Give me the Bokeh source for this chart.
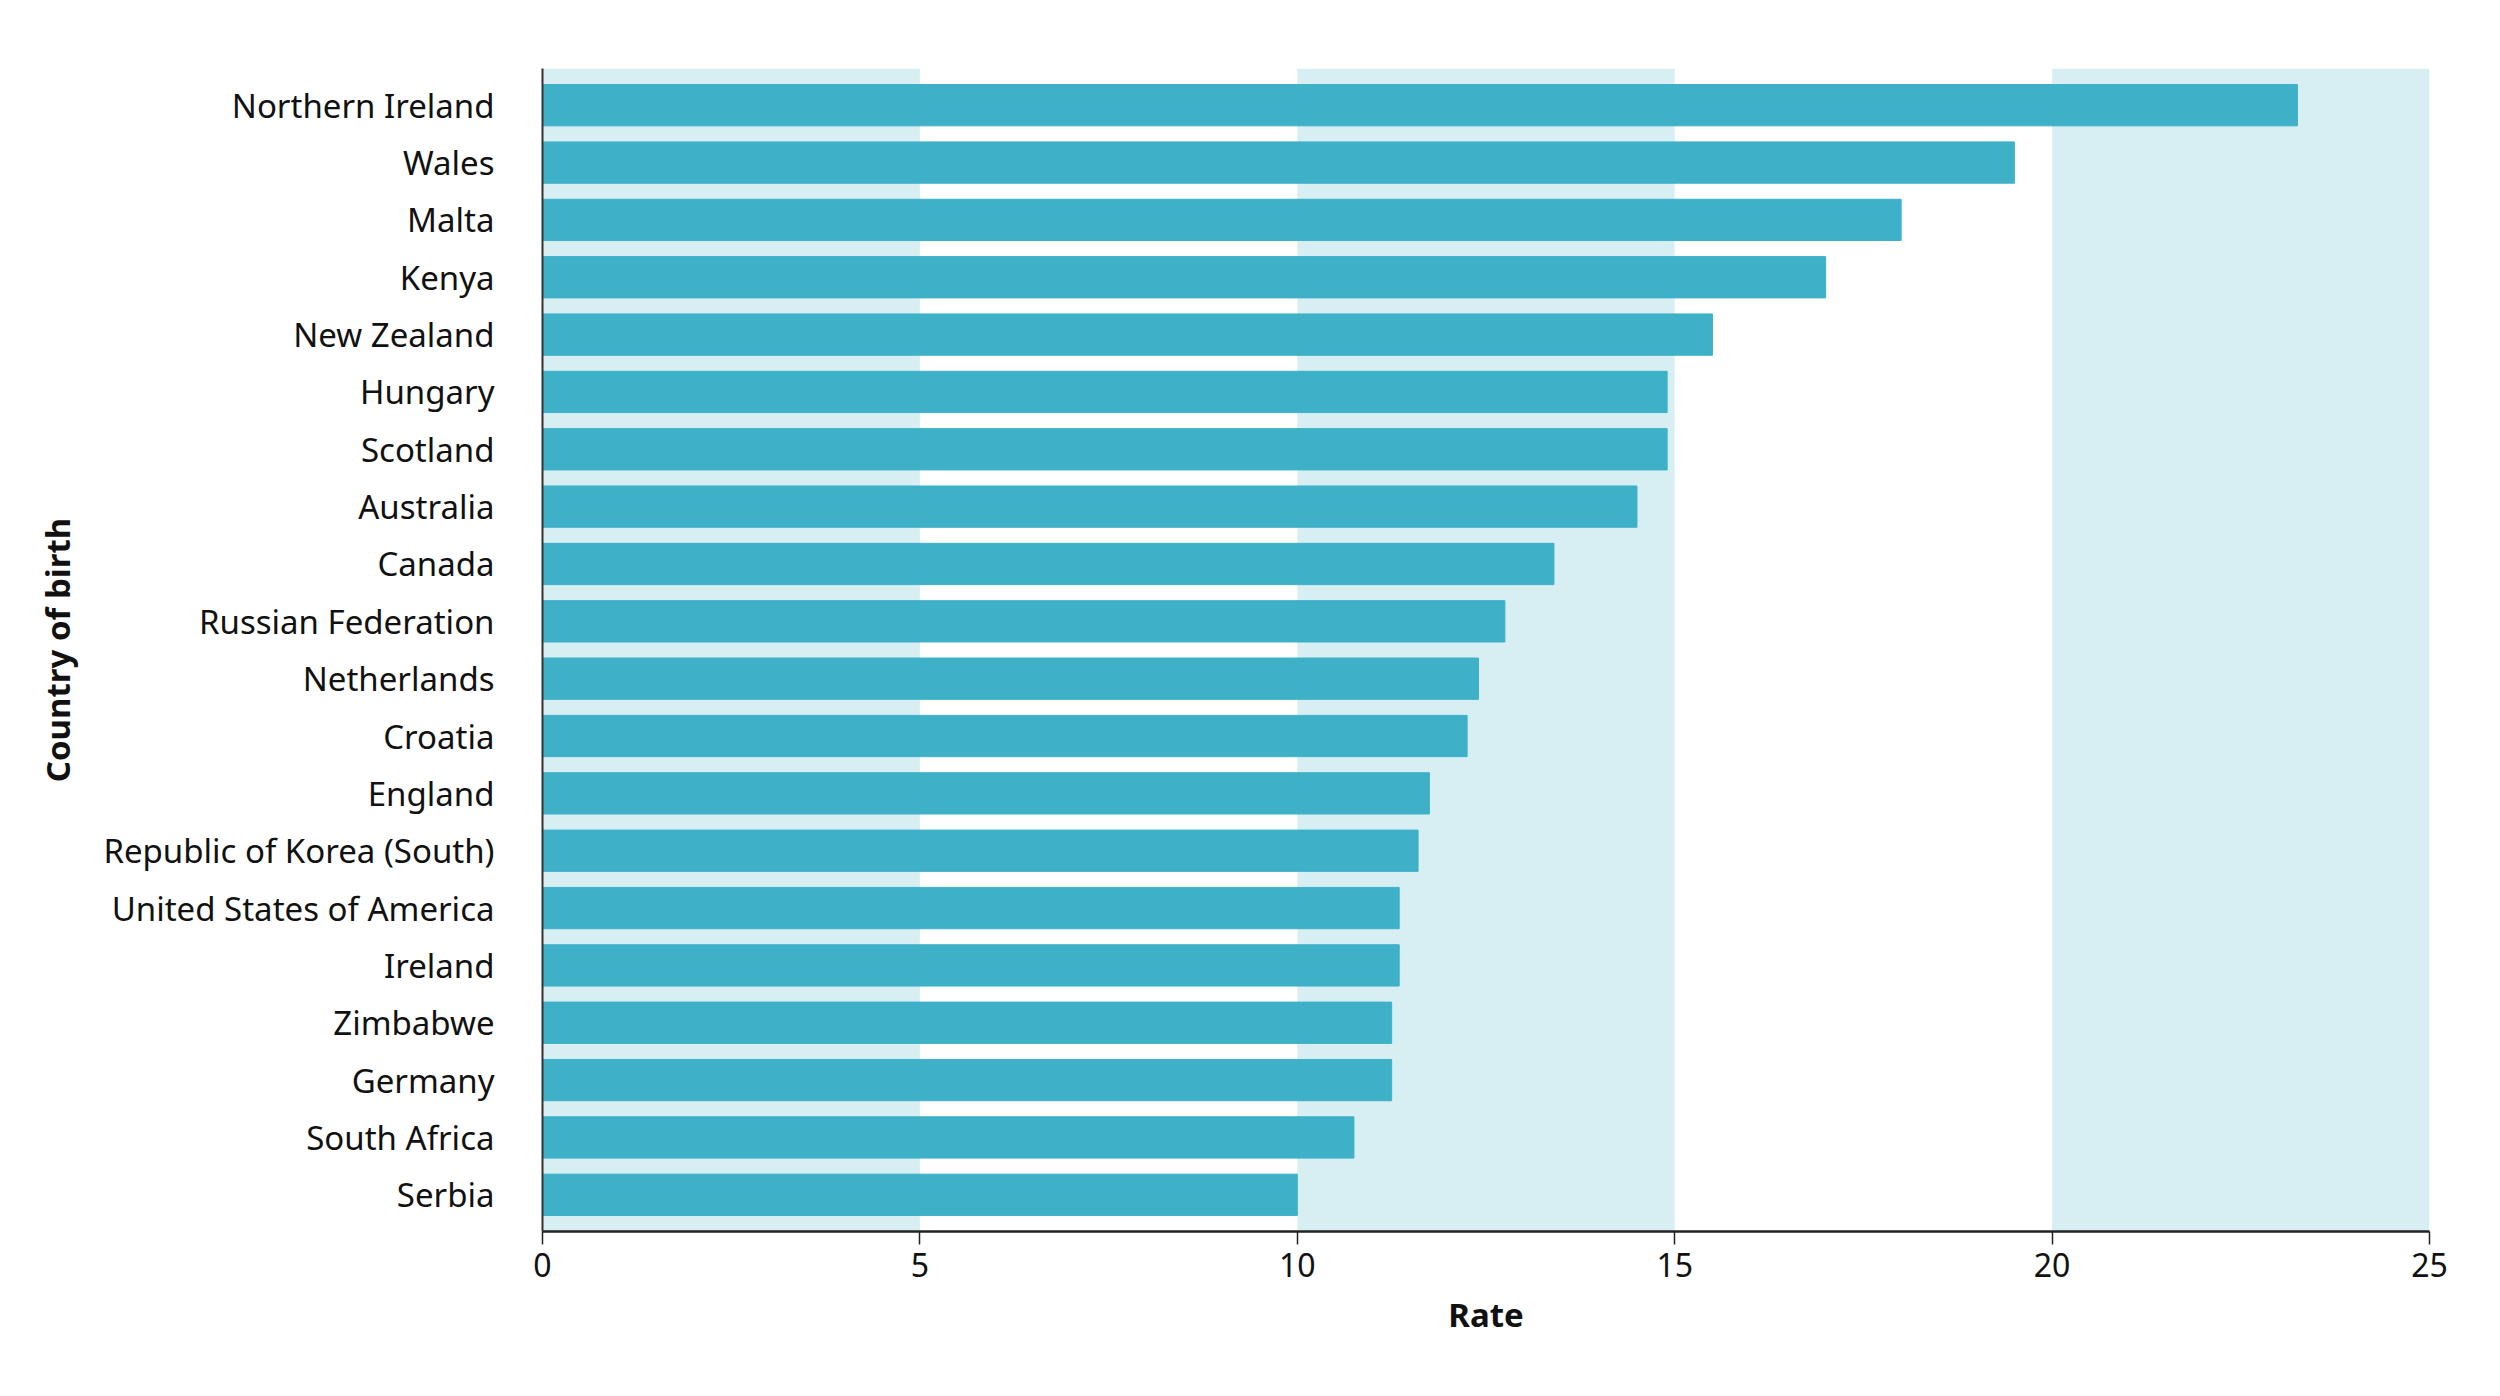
from bokeh.plotting import figure
from bokeh.models import FactorRange, Range1d, FixedTicker, BoxAnnotation
from bokeh.embed import file_html
from bokeh.resources import INLINE

# data
countries = ["Northern Ireland", "Wales", "Malta", "Kenya", "New Zealand",
             "Hungary", "Scotland", "Australia", "Canada", "Russian Federation",
             "Netherlands", "Croatia", "England", "Republic of Korea (South)",
             "United States of America", "Ireland", "Zimbabwe", "Germany",
             "South Africa", "Serbia"]
rates = [23.25, 19.5, 18.0, 17.0, 15.5,
         14.9, 14.9, 14.5, 13.4, 12.75,
         12.4, 12.25, 11.75, 11.6,
         11.35, 11.35, 11.25, 11.25,
         10.75, 10.0]
x_ticks = [0, 5, 10, 15, 20, 25]
band_starts = [0, 10, 20]
band_width = 5

BAR = "#3eb0c8"
BAND = "#d7eff3"
FONT = "Noto Sans"

y_range = FactorRange(factors=countries[::-1], range_padding=0.14,
                      range_padding_units="absolute")

p = figure(width=2484, height=1380, y_range=y_range, x_range=Range1d(0, 25),
           output_backend="svg", toolbar_location=None,
           min_border_left=542, min_border_right=55,
           min_border_top=68, min_border_bottom=149)

# alternating background bands
for b in band_starts:
    p.add_layout(BoxAnnotation(left=b, right=b + band_width, fill_color=BAND,
                               fill_alpha=1.0, line_alpha=0, level="underlay"))

p.hbar(y=countries, right=rates, left=0, height=0.72, color=BAR)

p.outline_line_color = None
p.grid.grid_line_color = None
p.background_fill_color = "white"

# x axis
p.xaxis.ticker = FixedTicker(ticks=x_ticks)
p.xaxis.axis_label = "Rate"
p.xaxis.axis_label_text_font = FONT
p.xaxis.axis_label_text_font_style = "bold"
p.xaxis.axis_label_text_font_size = "33px"
p.xaxis.axis_label_text_color = "#111111"
p.xaxis.axis_label_standoff = 12
p.xaxis.major_label_text_font = FONT
p.xaxis.major_label_text_font_size = "32px"
p.xaxis.major_label_text_color = "#111111"
p.xaxis.major_label_standoff = 8
p.xaxis.major_tick_in = 0
p.xaxis.major_tick_out = 13
p.xaxis.major_tick_line_color = "#222222"
p.xaxis.major_tick_line_width = 1.5
p.xaxis.minor_tick_line_color = None
p.xaxis.axis_line_color = "#222222"
p.xaxis.axis_line_width = 2.5

# y axis
p.yaxis.axis_label = "Country of birth"
p.yaxis.axis_label_text_font = FONT
p.yaxis.axis_label_text_font_style = "bold"
p.yaxis.axis_label_text_font_size = "33px"
p.yaxis.axis_label_text_color = "#111111"
p.yaxis.axis_label_standoff = 20
p.yaxis.major_label_text_font = FONT
p.yaxis.major_label_text_font_size = "33px"
p.yaxis.major_label_text_color = "#111111"
p.yaxis.major_label_standoff = 42
p.yaxis.major_tick_line_color = None
p.yaxis.axis_line_color = "#333333"
p.yaxis.axis_line_width = 2

open("out.html", "w").write(file_html(p, INLINE))
